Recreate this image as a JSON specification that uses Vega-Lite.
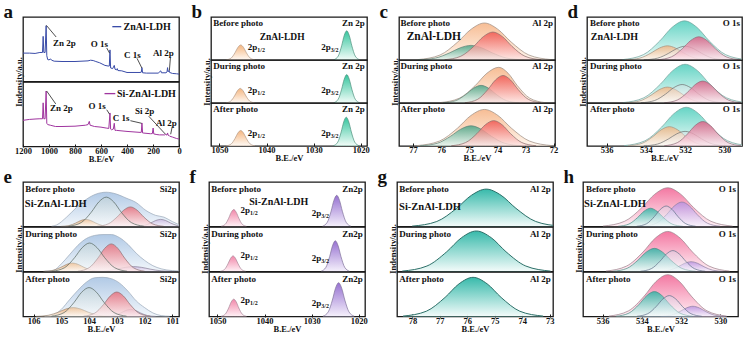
{
"$schema": "https://vega.github.io/schema/vega-lite/v6.json",
"background": "white",
"padding": {"left": 3, "top": 3, "right": 2, "bottom": 0},
"config": {
 "font": "Liberation Serif",
 "view": {"stroke": "#1a1a1a", "strokeWidth": 1.3},
 "axis": {"labelFont": "Liberation Serif", "labelFontWeight": "bold", "labelFontSize": 8.5, "labelColor": "#111", "labelFlush": false, "labelOverlap": false, "labelPadding": 2, "titleFont": "Liberation Serif", "titleFontWeight": "bold", "titleFontSize": 8.5, "titleColor": "#111", "titlePadding": 0, "tickSize": -3, "tickColor": "#1a1a1a", "domain": false, "grid": false, "format": "d"},
 "header": {"labels": false, "labelPadding": 0, "titleFont": "Liberation Serif", "titleFontWeight": "bold", "titleFontSize": 8.5, "titleColor": "#111", "titlePadding": -10},
 "title": {"font": "Liberation Serif", "fontWeight": "bold", "fontSize": 19, "color": "#111", "anchor": "start", "offset": 0, "frame": "bounds"},
 "text": {"font": "Liberation Serif", "fontWeight": "bold", "fontSize": 9, "color": "#111", "baseline": "middle"},
 "rule": {"color": "#222", "strokeWidth": 0.8}
},
"datasets": {
 "a": [
  {"n":1,"c":"lab"},{"n":2,"c":"lab"},
  {"n":1,"x":1200,"y":44},{"n":1,"x":1150,"y":44},{"n":1,"x":1107,"y":43.5},{"n":1,"x":1070,"y":45},{"n":1,"x":1050,"y":45},{"n":1,"x":1045,"y":70},{"n":1,"x":1040,"y":45},{"n":1,"x":1030,"y":45},{"n":1,"x":1022,"y":86.5},{"n":1,"x":1017,"y":40},{"n":1,"x":1010,"y":34},{"n":1,"x":1000,"y":33.5},{"n":1,"x":988,"y":35},{"n":1,"x":980,"y":33},{"n":1,"x":960,"y":31.5},{"n":1,"x":900,"y":31},{"n":1,"x":800,"y":31},{"n":1,"x":700,"y":32},{"n":1,"x":680,"y":33},{"n":1,"x":660,"y":32.5},{"n":1,"x":640,"y":31},{"n":1,"x":610,"y":29},{"n":1,"x":570,"y":25},{"n":1,"x":545,"y":24},{"n":1,"x":536,"y":24},{"n":1,"x":531,"y":49},{"n":1,"x":526,"y":21},{"n":1,"x":510,"y":20},{"n":1,"x":498,"y":25},{"n":1,"x":492,"y":19},{"n":1,"x":480,"y":18},{"n":1,"x":475,"y":20},{"n":1,"x":470,"y":17},{"n":1,"x":440,"y":16.5},{"n":1,"x":400,"y":14},{"n":1,"x":300,"y":14},{"n":1,"x":290,"y":14.5},{"n":1,"x":285,"y":21.5},{"n":1,"x":280,"y":13.5},{"n":1,"x":250,"y":13},{"n":1,"x":200,"y":13},{"n":1,"x":160,"y":13},{"n":1,"x":140,"y":16.5},{"n":1,"x":135,"y":13.5},{"n":1,"x":100,"y":13.5},{"n":1,"x":92,"y":15},{"n":1,"x":88,"y":21.5},{"n":1,"x":84,"y":15},{"n":1,"x":76,"y":17},{"n":1,"x":72,"y":14},{"n":1,"x":50,"y":12.5},{"n":1,"x":20,"y":12},{"n":1,"x":0,"y":11.5},
  {"n":2,"x":1200,"y":40.6},{"n":2,"x":1150,"y":42},{"n":2,"x":1100,"y":42.7},{"n":2,"x":1070,"y":43},{"n":2,"x":1050,"y":43},{"n":2,"x":1045,"y":67.7},{"n":2,"x":1040,"y":43},{"n":2,"x":1030,"y":43},{"n":2,"x":1022,"y":86},{"n":2,"x":1017,"y":36},{"n":2,"x":1010,"y":34},{"n":2,"x":990,"y":33},{"n":2,"x":950,"y":31},{"n":2,"x":900,"y":31},{"n":2,"x":800,"y":31.5},{"n":2,"x":720,"y":33},{"n":2,"x":700,"y":34},{"n":2,"x":690,"y":39},{"n":2,"x":684,"y":33},{"n":2,"x":650,"y":31},{"n":2,"x":600,"y":30},{"n":2,"x":560,"y":28.6},{"n":2,"x":540,"y":28},{"n":2,"x":531,"y":52},{"n":2,"x":526,"y":27},{"n":2,"x":520,"y":26},{"n":2,"x":505,"y":27},{"n":2,"x":498,"y":36},{"n":2,"x":492,"y":25},{"n":2,"x":480,"y":25},{"n":2,"x":400,"y":23.4},{"n":2,"x":300,"y":21.9},{"n":2,"x":290,"y":22},{"n":2,"x":285,"y":36.5},{"n":2,"x":280,"y":21},{"n":2,"x":270,"y":20.8},{"n":2,"x":220,"y":19.8},{"n":2,"x":205,"y":20},{"n":2,"x":199,"y":28.6},{"n":2,"x":194,"y":19.5},{"n":2,"x":170,"y":18.5},{"n":2,"x":150,"y":18},{"n":2,"x":110,"y":18},{"n":2,"x":104,"y":19},{"n":2,"x":100,"y":18},{"n":2,"x":92,"y":18},{"n":2,"x":88,"y":21},{"n":2,"x":84,"y":17.5},{"n":2,"x":76,"y":17},{"n":2,"x":72,"y":16},{"n":2,"x":50,"y":14.6},{"n":2,"x":20,"y":12.5},{"n":2,"x":0,"y":11.5}
 ],
 "b": [
  {"s":1,"c":"lab"},{"s":2,"c":"lab"},{"s":3,"c":"lab"},
  {"s":1,"c":"o","x":1042.5,"y":0.4},{"s":1,"c":"o","x":1043.5,"y":4.7},{"s":1,"c":"o","x":1044.3,"y":17},{"s":1,"c":"o","x":1044.9,"y":29.2},{"s":1,"c":"o","x":1045.5,"y":35},{"s":1,"c":"o","x":1046.1,"y":29.2},{"s":1,"c":"o","x":1046.7,"y":17},{"s":1,"c":"o","x":1047.5,"y":4.7},{"s":1,"c":"o","x":1048.5,"y":0.4},
  {"s":1,"c":"g","x":1020.3,"y":0.7},{"s":1,"c":"g","x":1021.2,"y":9.2},{"s":1,"c":"g","x":1021.92,"y":33.1},{"s":1,"c":"g","x":1022.46,"y":56.8},{"s":1,"c":"g","x":1023,"y":68},{"s":1,"c":"g","x":1023.54,"y":56.8},{"s":1,"c":"g","x":1024.08,"y":33.1},{"s":1,"c":"g","x":1024.8,"y":9.2},{"s":1,"c":"g","x":1025.7,"y":0.7},
  {"s":2,"c":"o","x":1042.6,"y":0.3},{"s":2,"c":"o","x":1043.6,"y":4.6},{"s":2,"c":"o","x":1044.4,"y":16.6},{"s":2,"c":"o","x":1045,"y":28.4},{"s":2,"c":"o","x":1045.6,"y":34},{"s":2,"c":"o","x":1046.2,"y":28.4},{"s":2,"c":"o","x":1046.8,"y":16.6},{"s":2,"c":"o","x":1047.6,"y":4.6},{"s":2,"c":"o","x":1048.6,"y":0.3},
  {"s":2,"c":"g","x":1020.3,"y":0.7},{"s":2,"c":"g","x":1021.2,"y":8.9},{"s":2,"c":"g","x":1021.92,"y":32.1},{"s":2,"c":"g","x":1022.46,"y":55.1},{"s":2,"c":"g","x":1023,"y":66},{"s":2,"c":"g","x":1023.54,"y":55.1},{"s":2,"c":"g","x":1024.08,"y":32.1},{"s":2,"c":"g","x":1024.8,"y":8.9},{"s":2,"c":"g","x":1025.7,"y":0.7},
  {"s":3,"c":"o","x":1042.5,"y":0.4},{"s":3,"c":"o","x":1043.5,"y":4.9},{"s":3,"c":"o","x":1044.3,"y":17.5},{"s":3,"c":"o","x":1044.9,"y":30.1},{"s":3,"c":"o","x":1045.5,"y":36},{"s":3,"c":"o","x":1046.1,"y":30.1},{"s":3,"c":"o","x":1046.7,"y":17.5},{"s":3,"c":"o","x":1047.5,"y":4.9},{"s":3,"c":"o","x":1048.5,"y":0.4},
  {"s":3,"c":"g","x":1020.4,"y":0.7},{"s":3,"c":"g","x":1021.3,"y":9},{"s":3,"c":"g","x":1022.02,"y":32.6},{"s":3,"c":"g","x":1022.56,"y":55.9},{"s":3,"c":"g","x":1023.1,"y":67},{"s":3,"c":"g","x":1023.64,"y":55.9},{"s":3,"c":"g","x":1024.18,"y":32.6},{"s":3,"c":"g","x":1024.9,"y":9},{"s":3,"c":"g","x":1025.8,"y":0.7}
 ],
 "c": [
  {"s":1,"c":"lab"},{"s":2,"c":"lab"},{"s":3,"c":"lab"},
  {"s":1,"c":"o","x":72.09,"y":0.9},{"s":1,"c":"o","x":72.88,"y":11.6},{"s":1,"c":"o","x":73.51,"y":41.9},{"s":1,"c":"o","x":73.99,"y":71.8},{"s":1,"c":"o","x":74.46,"y":86},{"s":1,"c":"o","x":74.93,"y":71.8},{"s":1,"c":"o","x":75.41,"y":41.9},{"s":1,"c":"o","x":76.04,"y":11.6},{"s":1,"c":"o","x":76.83,"y":0.9},
  {"s":1,"c":"r","x":72.45,"y":0.7},{"s":1,"c":"r","x":73.02,"y":8.8},{"s":1,"c":"r","x":73.48,"y":31.7},{"s":1,"c":"r","x":73.82,"y":54.3},{"s":1,"c":"r","x":74.16,"y":65},{"s":1,"c":"r","x":74.5,"y":54.3},{"s":1,"c":"r","x":74.84,"y":31.7},{"s":1,"c":"r","x":75.3,"y":8.8},{"s":1,"c":"r","x":75.87,"y":0.7},
  {"s":1,"c":"g","x":73.05,"y":0.3},{"s":1,"c":"g","x":73.68,"y":4.6},{"s":1,"c":"g","x":74.18,"y":16.6},{"s":1,"c":"g","x":74.56,"y":28.4},{"s":1,"c":"g","x":74.94,"y":34},{"s":1,"c":"g","x":75.32,"y":28.4},{"s":1,"c":"g","x":75.7,"y":16.6},{"s":1,"c":"g","x":76.2,"y":4.6},{"s":1,"c":"g","x":76.83,"y":0.3},
  {"s":2,"c":"o","x":72.3,"y":0.8},{"s":2,"c":"o","x":72.85,"y":11.2},{"s":2,"c":"o","x":73.29,"y":40.4},{"s":2,"c":"o","x":73.62,"y":69.3},{"s":2,"c":"o","x":73.95,"y":83},{"s":2,"c":"o","x":74.37,"y":69.3},{"s":2,"c":"o","x":74.79,"y":40.4},{"s":2,"c":"o","x":75.35,"y":11.2},{"s":2,"c":"o","x":76.05,"y":0.8},
  {"s":2,"c":"r","x":72.45,"y":0.6},{"s":2,"c":"r","x":72.9,"y":8.6},{"s":2,"c":"r","x":73.26,"y":31.2},{"s":2,"c":"r","x":73.53,"y":53.4},{"s":2,"c":"r","x":73.8,"y":64},{"s":2,"c":"r","x":74.07,"y":53.4},{"s":2,"c":"r","x":74.34,"y":31.2},{"s":2,"c":"r","x":74.7,"y":8.6},{"s":2,"c":"r","x":75.15,"y":0.6},
  {"s":2,"c":"g","x":73.23,"y":0.4},{"s":2,"c":"g","x":73.68,"y":5.5},{"s":2,"c":"g","x":74.04,"y":20},{"s":2,"c":"g","x":74.31,"y":34.2},{"s":2,"c":"g","x":74.58,"y":41},{"s":2,"c":"g","x":74.85,"y":34.2},{"s":2,"c":"g","x":75.12,"y":20},{"s":2,"c":"g","x":75.48,"y":5.5},{"s":2,"c":"g","x":75.93,"y":0.4},
  {"s":3,"c":"o","x":72.06,"y":0.9},{"s":3,"c":"o","x":72.86,"y":11.5},{"s":3,"c":"o","x":73.5,"y":41.4},{"s":3,"c":"o","x":73.98,"y":71},{"s":3,"c":"o","x":74.46,"y":85},{"s":3,"c":"o","x":74.94,"y":71},{"s":3,"c":"o","x":75.42,"y":41.4},{"s":3,"c":"o","x":76.06,"y":11.5},{"s":3,"c":"o","x":76.86,"y":0.9},
  {"s":3,"c":"r","x":72.63,"y":0.6},{"s":3,"c":"r","x":73.13,"y":8},{"s":3,"c":"r","x":73.53,"y":28.7},{"s":3,"c":"r","x":73.83,"y":49.3},{"s":3,"c":"r","x":74.13,"y":59},{"s":3,"c":"r","x":74.43,"y":49.3},{"s":3,"c":"r","x":74.73,"y":28.7},{"s":3,"c":"r","x":75.13,"y":8},{"s":3,"c":"r","x":75.63,"y":0.6},
  {"s":3,"c":"g","x":73.14,"y":0.5},{"s":3,"c":"g","x":73.74,"y":6.3},{"s":3,"c":"g","x":74.22,"y":22.9},{"s":3,"c":"g","x":74.58,"y":39.2},{"s":3,"c":"g","x":74.94,"y":47},{"s":3,"c":"g","x":75.3,"y":39.2},{"s":3,"c":"g","x":75.66,"y":22.9},{"s":3,"c":"g","x":76.14,"y":6.3},{"s":3,"c":"g","x":76.74,"y":0.5}
 ],
 "d": [
  {"s":1,"c":"lab"},{"s":2,"c":"lab"},{"s":3,"c":"lab"},
  {"s":1,"c":"t","x":528.88,"y":0.9},{"s":1,"c":"t","x":529.93,"y":12.3},{"s":1,"c":"t","x":530.77,"y":44.3},{"s":1,"c":"t","x":531.4,"y":76},{"s":1,"c":"t","x":532.03,"y":91},{"s":1,"c":"t","x":532.66,"y":76},{"s":1,"c":"t","x":533.29,"y":44.3},{"s":1,"c":"t","x":534.13,"y":12.3},{"s":1,"c":"t","x":535.18,"y":0.9},
  {"s":1,"c":"p","x":529.2,"y":0.5},{"s":1,"c":"p","x":529.9,"y":7.3},{"s":1,"c":"p","x":530.46,"y":26.3},{"s":1,"c":"p","x":530.88,"y":45.1},{"s":1,"c":"p","x":531.3,"y":54},{"s":1,"c":"p","x":531.72,"y":45.1},{"s":1,"c":"p","x":532.14,"y":26.3},{"s":1,"c":"p","x":532.7,"y":7.3},{"s":1,"c":"p","x":533.4,"y":0.5},
  {"s":1,"c":"o","x":530.8,"y":0.3},{"s":1,"c":"o","x":531.5,"y":4.5},{"s":1,"c":"o","x":532.06,"y":16.1},{"s":1,"c":"o","x":532.48,"y":27.6},{"s":1,"c":"o","x":532.9,"y":33},{"s":1,"c":"o","x":533.32,"y":27.6},{"s":1,"c":"o","x":533.74,"y":16.1},{"s":1,"c":"o","x":534.3,"y":4.5},{"s":1,"c":"o","x":535,"y":0.3},
  {"s":1,"c":"k","x":529.9,"y":0.3},{"s":1,"c":"k","x":530.6,"y":4.3},{"s":1,"c":"k","x":531.16,"y":15.6},{"s":1,"c":"k","x":531.58,"y":26.7},{"s":1,"c":"k","x":532,"y":32},{"s":1,"c":"k","x":532.42,"y":26.7},{"s":1,"c":"k","x":532.84,"y":15.6},{"s":1,"c":"k","x":533.4,"y":4.3},{"s":1,"c":"k","x":534.1,"y":0.3},
  {"s":2,"c":"t","x":528.85,"y":0.9},{"s":2,"c":"t","x":529.9,"y":12.2},{"s":2,"c":"t","x":530.74,"y":43.8},{"s":2,"c":"t","x":531.37,"y":75.2},{"s":2,"c":"t","x":532,"y":90},{"s":2,"c":"t","x":532.63,"y":75.2},{"s":2,"c":"t","x":533.26,"y":43.8},{"s":2,"c":"t","x":534.1,"y":12.2},{"s":2,"c":"t","x":535.15,"y":0.9},
  {"s":2,"c":"p","x":529.15,"y":0.5},{"s":2,"c":"p","x":529.8,"y":6.9},{"s":2,"c":"p","x":530.32,"y":24.8},{"s":2,"c":"p","x":530.71,"y":42.6},{"s":2,"c":"p","x":531.1,"y":51},{"s":2,"c":"p","x":531.49,"y":42.6},{"s":2,"c":"p","x":531.88,"y":24.8},{"s":2,"c":"p","x":532.4,"y":6.9},{"s":2,"c":"p","x":533.05,"y":0.5},
  {"s":2,"c":"o","x":530.8,"y":0.4},{"s":2,"c":"o","x":531.5,"y":5},{"s":2,"c":"o","x":532.06,"y":18},{"s":2,"c":"o","x":532.48,"y":30.9},{"s":2,"c":"o","x":532.9,"y":37},{"s":2,"c":"o","x":533.32,"y":30.9},{"s":2,"c":"o","x":533.74,"y":18},{"s":2,"c":"o","x":534.3,"y":5},{"s":2,"c":"o","x":535,"y":0.4},
  {"s":2,"c":"k","x":530.05,"y":0.4},{"s":2,"c":"k","x":530.75,"y":5.8},{"s":2,"c":"k","x":531.31,"y":20.9},{"s":2,"c":"k","x":531.73,"y":35.9},{"s":2,"c":"k","x":532.15,"y":43},{"s":2,"c":"k","x":532.57,"y":35.9},{"s":2,"c":"k","x":532.99,"y":20.9},{"s":2,"c":"k","x":533.55,"y":5.8},{"s":2,"c":"k","x":534.25,"y":0.4},
  {"s":3,"c":"t","x":528.79,"y":0.9},{"s":3,"c":"t","x":529.84,"y":12.2},{"s":3,"c":"t","x":530.68,"y":43.8},{"s":3,"c":"t","x":531.31,"y":75.2},{"s":3,"c":"t","x":531.94,"y":90},{"s":3,"c":"t","x":532.57,"y":75.2},{"s":3,"c":"t","x":533.2,"y":43.8},{"s":3,"c":"t","x":534.04,"y":12.2},{"s":3,"c":"t","x":535.09,"y":0.9},
  {"s":3,"c":"p","x":529.15,"y":0.6},{"s":3,"c":"p","x":529.8,"y":7.7},{"s":3,"c":"p","x":530.32,"y":27.8},{"s":3,"c":"p","x":530.71,"y":47.6},{"s":3,"c":"p","x":531.1,"y":57},{"s":3,"c":"p","x":531.49,"y":47.6},{"s":3,"c":"p","x":531.88,"y":27.8},{"s":3,"c":"p","x":532.4,"y":7.7},{"s":3,"c":"p","x":533.05,"y":0.6},
  {"s":3,"c":"o","x":530.7,"y":0.5},{"s":3,"c":"o","x":531.4,"y":6.1},{"s":3,"c":"o","x":531.96,"y":21.9},{"s":3,"c":"o","x":532.38,"y":37.6},{"s":3,"c":"o","x":532.8,"y":45},{"s":3,"c":"o","x":533.22,"y":37.6},{"s":3,"c":"o","x":533.64,"y":21.9},{"s":3,"c":"o","x":534.2,"y":6.1},{"s":3,"c":"o","x":534.9,"y":0.5},
  {"s":3,"c":"k","x":529.9,"y":0.3},{"s":3,"c":"k","x":530.6,"y":4.6},{"s":3,"c":"k","x":531.16,"y":16.6},{"s":3,"c":"k","x":531.58,"y":28.4},{"s":3,"c":"k","x":532,"y":34},{"s":3,"c":"k","x":532.42,"y":28.4},{"s":3,"c":"k","x":532.84,"y":16.6},{"s":3,"c":"k","x":533.4,"y":4.6},{"s":3,"c":"k","x":534.1,"y":0.3}
 ],
 "e": [
  {"s":1,"c":"lab"},{"s":2,"c":"lab"},{"s":3,"c":"lab"},
  {"s":1,"c":"b","x":105.35,"y":0.5},{"s":1,"c":"b","x":105.17,"y":3.5},{"s":1,"c":"b","x":104.81,"y":21},{"s":1,"c":"b","x":104.45,"y":43},{"s":1,"c":"b","x":104.1,"y":61},{"s":1,"c":"b","x":103.74,"y":73},{"s":1,"c":"b","x":103.38,"y":77},{"s":1,"c":"b","x":103.02,"y":73},{"s":1,"c":"b","x":102.67,"y":64},{"s":1,"c":"b","x":102.31,"y":54},{"s":1,"c":"b","x":101.95,"y":36},{"s":1,"c":"b","x":101.6,"y":25},{"s":1,"c":"b","x":101.3,"y":21},{"s":1,"c":"b","x":101,"y":11},{"s":1,"c":"b","x":100.76,"y":4},
  {"s":1,"c":"k","x":102.03,"y":0.7},{"s":1,"c":"k","x":102.48,"y":8.9},{"s":1,"c":"k","x":102.84,"y":32.1},{"s":1,"c":"k","x":103.11,"y":55.1},{"s":1,"c":"k","x":103.38,"y":66},{"s":1,"c":"k","x":103.65,"y":55.1},{"s":1,"c":"k","x":103.92,"y":32.1},{"s":1,"c":"k","x":104.28,"y":8.9},{"s":1,"c":"k","x":104.73,"y":0.7},
  {"s":1,"c":"r","x":101.31,"y":0.4},{"s":1,"c":"r","x":101.71,"y":5.9},{"s":1,"c":"r","x":102.03,"y":21.4},{"s":1,"c":"r","x":102.27,"y":36.7},{"s":1,"c":"r","x":102.51,"y":44},{"s":1,"c":"r","x":102.75,"y":36.7},{"s":1,"c":"r","x":102.99,"y":21.4},{"s":1,"c":"r","x":103.31,"y":5.9},{"s":1,"c":"r","x":103.71,"y":0.4},
  {"s":1,"c":"o","x":103.22,"y":0.2},{"s":1,"c":"o","x":103.52,"y":2.2},{"s":1,"c":"o","x":103.76,"y":7.8},{"s":1,"c":"o","x":103.94,"y":13.4},{"s":1,"c":"o","x":104.12,"y":16},{"s":1,"c":"o","x":104.3,"y":13.4},{"s":1,"c":"o","x":104.48,"y":7.8},{"s":1,"c":"o","x":104.72,"y":2.2},{"s":1,"c":"o","x":105.02,"y":0.2},
  {"s":1,"c":"v","x":100.52,"y":0.2},{"s":1,"c":"v","x":100.82,"y":2.2},{"s":1,"c":"v","x":101.06,"y":7.8},{"s":1,"c":"v","x":101.24,"y":13.4},{"s":1,"c":"v","x":101.42,"y":16},{"s":1,"c":"v","x":101.6,"y":13.4},{"s":1,"c":"v","x":101.78,"y":7.8},{"s":1,"c":"v","x":102.02,"y":2.2},{"s":1,"c":"v","x":102.32,"y":0.2},
  {"s":2,"c":"b","x":105.6,"y":0.5},{"s":2,"c":"b","x":105.3,"y":2},{"s":2,"c":"b","x":105,"y":17},{"s":2,"c":"b","x":104.7,"y":38},{"s":2,"c":"b","x":104.4,"y":59},{"s":2,"c":"b","x":104.1,"y":74},{"s":2,"c":"b","x":103.8,"y":81},{"s":2,"c":"b","x":103.5,"y":83},{"s":2,"c":"b","x":103.2,"y":83},{"s":2,"c":"b","x":102.9,"y":76},{"s":2,"c":"b","x":102.6,"y":61},{"s":2,"c":"b","x":102.3,"y":41},{"s":2,"c":"b","x":102,"y":25},{"s":2,"c":"b","x":101.7,"y":13},{"s":2,"c":"b","x":101.4,"y":6},{"s":2,"c":"b","x":101,"y":2},{"s":2,"c":"b","x":100.76,"y":1},
  {"s":2,"c":"k","x":102.63,"y":0.6},{"s":2,"c":"k","x":103.08,"y":8.6},{"s":2,"c":"k","x":103.44,"y":31.2},{"s":2,"c":"k","x":103.71,"y":53.4},{"s":2,"c":"k","x":103.98,"y":64},{"s":2,"c":"k","x":104.25,"y":53.4},{"s":2,"c":"k","x":104.52,"y":31.2},{"s":2,"c":"k","x":104.88,"y":8.6},{"s":2,"c":"k","x":105.33,"y":0.6},
  {"s":2,"c":"r","x":102,"y":0.6},{"s":2,"c":"r","x":102.4,"y":8.4},{"s":2,"c":"r","x":102.72,"y":30.2},{"s":2,"c":"r","x":102.96,"y":51.8},{"s":2,"c":"r","x":103.2,"y":62},{"s":2,"c":"r","x":103.44,"y":51.8},{"s":2,"c":"r","x":103.68,"y":30.2},{"s":2,"c":"r","x":104,"y":8.4},{"s":2,"c":"r","x":104.4,"y":0.6},
  {"s":2,"c":"o","x":103.55,"y":0.2},{"s":2,"c":"o","x":103.9,"y":2.6},{"s":2,"c":"o","x":104.18,"y":9.3},{"s":2,"c":"o","x":104.39,"y":15.9},{"s":2,"c":"o","x":104.6,"y":19},{"s":2,"c":"o","x":104.81,"y":15.9},{"s":2,"c":"o","x":105.02,"y":9.3},{"s":2,"c":"o","x":105.3,"y":2.6},{"s":2,"c":"o","x":105.65,"y":0.2},
  {"s":2,"c":"v","x":100.9,"y":0.1},{"s":2,"c":"v","x":101.4,"y":1.5},{"s":2,"c":"v","x":101.8,"y":5.4},{"s":2,"c":"v","x":102.1,"y":9.2},{"s":2,"c":"v","x":102.4,"y":11},{"s":2,"c":"v","x":102.7,"y":9.2},{"s":2,"c":"v","x":103,"y":5.4},{"s":2,"c":"v","x":103.4,"y":1.5},{"s":2,"c":"v","x":103.9,"y":0.1},
  {"s":3,"c":"b","x":105.6,"y":0.5},{"s":3,"c":"b","x":105.35,"y":2},{"s":3,"c":"b","x":105,"y":16},{"s":3,"c":"b","x":104.7,"y":38},{"s":3,"c":"b","x":104.4,"y":59},{"s":3,"c":"b","x":104.1,"y":77},{"s":3,"c":"b","x":103.8,"y":87},{"s":3,"c":"b","x":103.5,"y":88},{"s":3,"c":"b","x":103.2,"y":85},{"s":3,"c":"b","x":102.9,"y":75},{"s":3,"c":"b","x":102.6,"y":57},{"s":3,"c":"b","x":102.3,"y":35},{"s":3,"c":"b","x":102,"y":20},{"s":3,"c":"b","x":101.7,"y":8},{"s":3,"c":"b","x":101.4,"y":2},{"s":3,"c":"b","x":101.1,"y":0.5},
  {"s":3,"c":"k","x":102.65,"y":0.7},{"s":3,"c":"k","x":103.1,"y":8.8},{"s":3,"c":"k","x":103.46,"y":31.7},{"s":3,"c":"k","x":103.73,"y":54.3},{"s":3,"c":"k","x":104,"y":65},{"s":3,"c":"k","x":104.27,"y":54.3},{"s":3,"c":"k","x":104.54,"y":31.7},{"s":3,"c":"k","x":104.9,"y":8.8},{"s":3,"c":"k","x":105.35,"y":0.7},
  {"s":3,"c":"r","x":101.8,"y":0.6},{"s":3,"c":"r","x":102.2,"y":7.4},{"s":3,"c":"r","x":102.52,"y":26.8},{"s":3,"c":"r","x":102.76,"y":45.9},{"s":3,"c":"r","x":103,"y":55},{"s":3,"c":"r","x":103.24,"y":45.9},{"s":3,"c":"r","x":103.48,"y":26.8},{"s":3,"c":"r","x":103.8,"y":7.4},{"s":3,"c":"r","x":104.2,"y":0.6},
  {"s":3,"c":"o","x":103.22,"y":0.2},{"s":3,"c":"o","x":103.67,"y":2.7},{"s":3,"c":"o","x":104.03,"y":9.7},{"s":3,"c":"o","x":104.3,"y":16.7},{"s":3,"c":"o","x":104.57,"y":20},{"s":3,"c":"o","x":104.84,"y":16.7},{"s":3,"c":"o","x":105.11,"y":9.7},{"s":3,"c":"o","x":105.47,"y":2.7},{"s":3,"c":"o","x":105.92,"y":0.2},
  {"s":3,"c":"v","x":101.6,"y":0.2},{"s":3,"c":"v","x":101.9,"y":2.2},{"s":3,"c":"v","x":102.14,"y":7.8},{"s":3,"c":"v","x":102.32,"y":13.4},{"s":3,"c":"v","x":102.5,"y":16},{"s":3,"c":"v","x":102.68,"y":13.4},{"s":3,"c":"v","x":102.86,"y":7.8},{"s":3,"c":"v","x":103.1,"y":2.2},{"s":3,"c":"v","x":103.4,"y":0.2}
 ],
 "f": [
  {"s":1,"c":"lab"},{"s":2,"c":"lab"},{"s":3,"c":"lab"},
  {"s":1,"c":"p","x":1043.85,"y":0.4},{"s":1,"c":"p","x":1044.75,"y":5.1},{"s":1,"c":"p","x":1045.47,"y":18.5},{"s":1,"c":"p","x":1046.01,"y":31.7},{"s":1,"c":"p","x":1046.55,"y":38},{"s":1,"c":"p","x":1047.09,"y":31.7},{"s":1,"c":"p","x":1047.63,"y":18.5},{"s":1,"c":"p","x":1048.35,"y":5.1},{"s":1,"c":"p","x":1049.25,"y":0.4},
  {"s":1,"c":"v","x":1021.7,"y":0.7},{"s":1,"c":"v","x":1022.7,"y":9.5},{"s":1,"c":"v","x":1023.5,"y":34.1},{"s":1,"c":"v","x":1024.1,"y":58.5},{"s":1,"c":"v","x":1024.7,"y":70},{"s":1,"c":"v","x":1025.3,"y":58.5},{"s":1,"c":"v","x":1025.9,"y":34.1},{"s":1,"c":"v","x":1026.7,"y":9.5},{"s":1,"c":"v","x":1027.7,"y":0.7},
  {"s":2,"c":"p","x":1044,"y":0.4},{"s":2,"c":"p","x":1044.9,"y":4.7},{"s":2,"c":"p","x":1045.62,"y":17},{"s":2,"c":"p","x":1046.16,"y":29.2},{"s":2,"c":"p","x":1046.7,"y":35},{"s":2,"c":"p","x":1047.24,"y":29.2},{"s":2,"c":"p","x":1047.78,"y":17},{"s":2,"c":"p","x":1048.5,"y":4.7},{"s":2,"c":"p","x":1049.4,"y":0.4},
  {"s":2,"c":"v","x":1022,"y":0.7},{"s":2,"c":"v","x":1023,"y":9.3},{"s":2,"c":"v","x":1023.8,"y":33.6},{"s":2,"c":"v","x":1024.4,"y":57.6},{"s":2,"c":"v","x":1025,"y":69},{"s":2,"c":"v","x":1025.6,"y":57.6},{"s":2,"c":"v","x":1026.2,"y":33.6},{"s":2,"c":"v","x":1027,"y":9.3},{"s":2,"c":"v","x":1028,"y":0.7},
  {"s":3,"c":"p","x":1043.85,"y":0.4},{"s":3,"c":"p","x":1044.75,"y":5.3},{"s":3,"c":"p","x":1045.47,"y":19},{"s":3,"c":"p","x":1046.01,"y":32.6},{"s":3,"c":"p","x":1046.55,"y":39},{"s":3,"c":"p","x":1047.09,"y":32.6},{"s":3,"c":"p","x":1047.63,"y":19},{"s":3,"c":"p","x":1048.35,"y":5.3},{"s":3,"c":"p","x":1049.25,"y":0.4},
  {"s":3,"c":"v","x":1021,"y":0.8},{"s":3,"c":"v","x":1022.1,"y":10.3},{"s":3,"c":"v","x":1022.98,"y":37},{"s":3,"c":"v","x":1023.64,"y":63.5},{"s":3,"c":"v","x":1024.3,"y":76},{"s":3,"c":"v","x":1024.96,"y":63.5},{"s":3,"c":"v","x":1025.62,"y":37},{"s":3,"c":"v","x":1026.5,"y":10.3},{"s":3,"c":"v","x":1027.6,"y":0.8}
 ],
 "g": [
  {"s":1,"c":"lab"},{"s":2,"c":"lab"},{"s":3,"c":"lab"},
  {"s":1,"c":"t","x":72.61,"y":0.8},{"s":1,"c":"t","x":73.51,"y":11.3},{"s":1,"c":"t","x":74.23,"y":40.9},{"s":1,"c":"t","x":74.77,"y":70.1},{"s":1,"c":"t","x":75.31,"y":84},{"s":1,"c":"t","x":75.85,"y":70.1},{"s":1,"c":"t","x":76.39,"y":40.9},{"s":1,"c":"t","x":77.11,"y":11.3},{"s":1,"c":"t","x":78.01,"y":0.8},
  {"s":2,"c":"t","x":72.97,"y":0.9},{"s":2,"c":"t","x":73.87,"y":12.3},{"s":2,"c":"t","x":74.59,"y":44.3},{"s":2,"c":"t","x":75.13,"y":76},{"s":2,"c":"t","x":75.67,"y":91},{"s":2,"c":"t","x":76.21,"y":76},{"s":2,"c":"t","x":76.75,"y":44.3},{"s":2,"c":"t","x":77.47,"y":12.3},{"s":2,"c":"t","x":78.37,"y":0.9},
  {"s":3,"c":"t","x":73.24,"y":0.9},{"s":3,"c":"t","x":74.09,"y":11.9},{"s":3,"c":"t","x":74.77,"y":42.9},{"s":3,"c":"t","x":75.28,"y":73.5},{"s":3,"c":"t","x":75.79,"y":88},{"s":3,"c":"t","x":76.3,"y":73.5},{"s":3,"c":"t","x":76.81,"y":42.9},{"s":3,"c":"t","x":77.49,"y":11.9},{"s":3,"c":"t","x":78.34,"y":0.9}
 ],
 "h": [
  {"s":1,"c":"lab"},{"s":2,"c":"lab"},{"s":3,"c":"lab"},
  {"s":1,"c":"p","x":529.38,"y":0.9},{"s":1,"c":"p","x":530.48,"y":11.7},{"s":1,"c":"p","x":531.36,"y":42.4},{"s":1,"c":"p","x":532.02,"y":72.6},{"s":1,"c":"p","x":532.68,"y":87},{"s":1,"c":"p","x":533.34,"y":72.6},{"s":1,"c":"p","x":534,"y":42.4},{"s":1,"c":"p","x":534.88,"y":11.7},{"s":1,"c":"p","x":535.98,"y":0.9},
  {"s":1,"c":"t","x":531.91,"y":0.4},{"s":1,"c":"t","x":532.46,"y":5.5},{"s":1,"c":"t","x":532.9,"y":20},{"s":1,"c":"t","x":533.23,"y":34.2},{"s":1,"c":"t","x":533.56,"y":41},{"s":1,"c":"t","x":533.89,"y":34.2},{"s":1,"c":"t","x":534.22,"y":20},{"s":1,"c":"t","x":534.66,"y":5.5},{"s":1,"c":"t","x":535.21,"y":0.4},
  {"s":1,"c":"k","x":531.26,"y":0.5},{"s":1,"c":"k","x":531.76,"y":6.2},{"s":1,"c":"k","x":532.16,"y":22.4},{"s":1,"c":"k","x":532.46,"y":38.4},{"s":1,"c":"k","x":532.76,"y":46},{"s":1,"c":"k","x":533.06,"y":38.4},{"s":1,"c":"k","x":533.36,"y":22.4},{"s":1,"c":"k","x":533.76,"y":6.2},{"s":1,"c":"k","x":534.26,"y":0.5},
  {"s":1,"c":"v","x":530.01,"y":0.6},{"s":1,"c":"v","x":530.66,"y":7.4},{"s":1,"c":"v","x":531.18,"y":26.8},{"s":1,"c":"v","x":531.57,"y":45.9},{"s":1,"c":"v","x":531.96,"y":55},{"s":1,"c":"v","x":532.35,"y":45.9},{"s":1,"c":"v","x":532.74,"y":26.8},{"s":1,"c":"v","x":533.26,"y":7.4},{"s":1,"c":"v","x":533.91,"y":0.6},
  {"s":2,"c":"p","x":529.53,"y":0.9},{"s":2,"c":"p","x":530.58,"y":12.2},{"s":2,"c":"p","x":531.42,"y":43.8},{"s":2,"c":"p","x":532.05,"y":75.2},{"s":2,"c":"p","x":532.68,"y":90},{"s":2,"c":"p","x":533.31,"y":75.2},{"s":2,"c":"p","x":533.94,"y":43.8},{"s":2,"c":"p","x":534.78,"y":12.2},{"s":2,"c":"p","x":535.83,"y":0.9},
  {"s":2,"c":"t","x":531.26,"y":0.5},{"s":2,"c":"t","x":531.96,"y":7},{"s":2,"c":"t","x":532.52,"y":25.3},{"s":2,"c":"t","x":532.94,"y":43.4},{"s":2,"c":"t","x":533.36,"y":52},{"s":2,"c":"t","x":533.78,"y":43.4},{"s":2,"c":"t","x":534.2,"y":25.3},{"s":2,"c":"t","x":534.76,"y":7},{"s":2,"c":"t","x":535.46,"y":0.5},
  {"s":2,"c":"k","x":530.77,"y":0.5},{"s":2,"c":"k","x":531.32,"y":6.3},{"s":2,"c":"k","x":531.76,"y":22.9},{"s":2,"c":"k","x":532.09,"y":39.2},{"s":2,"c":"k","x":532.42,"y":47},{"s":2,"c":"k","x":532.75,"y":39.2},{"s":2,"c":"k","x":533.08,"y":22.9},{"s":2,"c":"k","x":533.52,"y":6.3},{"s":2,"c":"k","x":534.07,"y":0.5},
  {"s":2,"c":"v","x":529.84,"y":0.2},{"s":2,"c":"v","x":530.39,"y":3},{"s":2,"c":"v","x":530.83,"y":10.7},{"s":2,"c":"v","x":531.16,"y":18.4},{"s":2,"c":"v","x":531.49,"y":22},{"s":2,"c":"v","x":531.82,"y":18.4},{"s":2,"c":"v","x":532.15,"y":10.7},{"s":2,"c":"v","x":532.59,"y":3},{"s":2,"c":"v","x":533.14,"y":0.2},
  {"s":3,"c":"p","x":529.68,"y":0.9},{"s":3,"c":"p","x":530.68,"y":12.7},{"s":3,"c":"p","x":531.48,"y":45.8},{"s":3,"c":"p","x":532.08,"y":78.5},{"s":3,"c":"p","x":532.68,"y":94},{"s":3,"c":"p","x":533.28,"y":78.5},{"s":3,"c":"p","x":533.88,"y":45.8},{"s":3,"c":"p","x":534.68,"y":12.7},{"s":3,"c":"p","x":535.68,"y":0.9},
  {"s":3,"c":"t","x":531.41,"y":0.6},{"s":3,"c":"t","x":532.06,"y":7.6},{"s":3,"c":"t","x":532.58,"y":27.3},{"s":3,"c":"t","x":532.97,"y":46.8},{"s":3,"c":"t","x":533.36,"y":56},{"s":3,"c":"t","x":533.75,"y":46.8},{"s":3,"c":"t","x":534.14,"y":27.3},{"s":3,"c":"t","x":534.66,"y":7.6},{"s":3,"c":"t","x":535.31,"y":0.6},
  {"s":3,"c":"k","x":530.95,"y":0.5},{"s":3,"c":"k","x":531.5,"y":6.3},{"s":3,"c":"k","x":531.94,"y":22.9},{"s":3,"c":"k","x":532.27,"y":39.2},{"s":3,"c":"k","x":532.6,"y":47},{"s":3,"c":"k","x":532.93,"y":39.2},{"s":3,"c":"k","x":533.26,"y":22.9},{"s":3,"c":"k","x":533.7,"y":6.3},{"s":3,"c":"k","x":534.25,"y":0.5},
  {"s":3,"c":"v","x":529.75,"y":0.2},{"s":3,"c":"v","x":530.3,"y":3.1},{"s":3,"c":"v","x":530.74,"y":11.2},{"s":3,"c":"v","x":531.07,"y":19.2},{"s":3,"c":"v","x":531.4,"y":23},{"s":3,"c":"v","x":531.73,"y":19.2},{"s":3,"c":"v","x":532.06,"y":11.2},{"s":3,"c":"v","x":532.5,"y":3.1},{"s":3,"c":"v","x":533.05,"y":0.2}
 ]
},
"vconcat": [
{"hconcat": [
 {
  "title": {"text": "a", "dx": -11, "dy": 10},
  "data": {"name": "a"},
  "facet": {"row": {"field": "n", "type": "ordinal", "header": {"title": "Indensity/a.u."}}},
  "spacing": {"row": 0},
  "bounds": "flush",
  "spec": {
   "width": 156, "height": 64.5,
   "layer": [
    {"transform": [{"filter": "datum.n==1 && datum.c!='lab'"}], "mark": {"type": "line", "color": "#3a4ca8", "strokeWidth": 1}, "encoding": {"x": {"field": "x", "type": "quantitative", "scale": {"domain": [0, 1200], "reverse": true, "nice": false, "zero": false}, "axis": {"values": [1200, 1000, 800, 600, 400, 200, 0], "title": "B.E/eV", "format": "d"}}, "y": {"field": "y", "type": "quantitative", "scale": {"domain": [0, 100], "nice": false}, "axis": null}}},
    {"transform": [{"filter": "datum.n==2 && datum.c!='lab'"}], "mark": {"type": "line", "color": "#a0359f", "strokeWidth": 1}, "encoding": {"x": {"field": "x", "type": "quantitative", "scale": {"domain": [0, 1200], "reverse": true, "nice": false, "zero": false}, "axis": {"values": [1200, 1000, 800, 600, 400, 200, 0], "title": "B.E/eV", "format": "d"}}, "y": {"field": "y", "type": "quantitative", "scale": {"domain": [0, 100], "nice": false}, "axis": null}}},
    {"transform": [{"filter": "datum.n==1 && datum.c=='lab'"}], "mark": {"type": "rule", "color": "#3a4ca8", "strokeWidth": 1.3}, "encoding": {"x": {"datum": 513, "axis": {"values": [1200, 1000, 800, 600, 400, 200, 0], "title": "B.E/eV", "format": "d"}}, "x2": {"datum": 444}, "y": {"datum": 85, "axis": null}}},
    {"transform": [{"filter": "datum.n==1 && datum.c=='lab'"}], "mark": {"type": "text", "align": "left", "fontSize": 10, "text": "ZnAl-LDH"}, "encoding": {"x": {"datum": 426, "axis": {"values": [1200, 1000, 800, 600, 400, 200, 0], "title": "B.E/eV", "format": "d"}}, "y": {"datum": 85, "axis": null}}},
    {"transform": [{"filter": "datum.n==2 && datum.c=='lab'"}], "mark": {"type": "rule", "color": "#a0359f", "strokeWidth": 1.3}, "encoding": {"x": {"datum": 573, "axis": {"values": [1200, 1000, 800, 600, 400, 200, 0], "title": "B.E/eV", "format": "d"}}, "x2": {"datum": 490}, "y": {"datum": 82, "axis": null}}},
    {"transform": [{"filter": "datum.n==2 && datum.c=='lab'"}], "mark": {"type": "text", "align": "left", "fontSize": 10, "text": "Si-ZnAl-LDH"}, "encoding": {"x": {"datum": 477, "axis": {"values": [1200, 1000, 800, 600, 400, 200, 0], "title": "B.E/eV", "format": "d"}}, "y": {"datum": 82, "axis": null}}},
    {"transform": [{"filter": "datum.n==1 && datum.c=='lab'"}], "mark": {"type": "text", "align": "left", "text": "Zn 2p"}, "encoding": {"x": {"datum": 969, "axis": {"values": [1200, 1000, 800, 600, 400, 200, 0], "title": "B.E/eV", "format": "d"}}, "y": {"datum": 59, "axis": null}}},
    {"transform": [{"filter": "datum.n==1 && datum.c=='lab'"}], "mark": {"type": "text", "align": "center", "text": "O 1s"}, "encoding": {"x": {"datum": 613, "axis": {"values": [1200, 1000, 800, 600, 400, 200, 0], "title": "B.E/eV", "format": "d"}}, "y": {"datum": 57.5, "axis": null}}},
    {"transform": [{"filter": "datum.n==1 && datum.c=='lab'"}], "mark": {"type": "text", "align": "center", "text": "C 1s"}, "encoding": {"x": {"datum": 358, "axis": {"values": [1200, 1000, 800, 600, 400, 200, 0], "title": "B.E/eV", "format": "d"}}, "y": {"datum": 41.5, "axis": null}}},
    {"transform": [{"filter": "datum.n==1 && datum.c=='lab'"}], "mark": {"type": "text", "align": "center", "text": "Al 2p"}, "encoding": {"x": {"datum": 120, "axis": {"values": [1200, 1000, 800, 600, 400, 200, 0], "title": "B.E/eV", "format": "d"}}, "y": {"datum": 44, "axis": null}}},
    {"transform": [{"filter": "datum.n==2 && datum.c=='lab'"}], "mark": {"type": "text", "align": "left", "text": "Zn 2p"}, "encoding": {"x": {"datum": 992, "axis": {"values": [1200, 1000, 800, 600, 400, 200, 0], "title": "B.E/eV", "format": "d"}}, "y": {"datum": 60, "axis": null}}},
    {"transform": [{"filter": "datum.n==2 && datum.c=='lab'"}], "mark": {"type": "text", "align": "center", "text": "O 1s"}, "encoding": {"x": {"datum": 630, "axis": {"values": [1200, 1000, 800, 600, 400, 200, 0], "title": "B.E/eV", "format": "d"}}, "y": {"datum": 62.5, "axis": null}}},
    {"transform": [{"filter": "datum.n==2 && datum.c=='lab'"}], "mark": {"type": "text", "align": "center", "text": "C 1s"}, "encoding": {"x": {"datum": 445, "axis": {"values": [1200, 1000, 800, 600, 400, 200, 0], "title": "B.E/eV", "format": "d"}}, "y": {"datum": 44, "axis": null}}},
    {"transform": [{"filter": "datum.n==2 && datum.c=='lab'"}], "mark": {"type": "text", "align": "center", "text": "Si 2p"}, "encoding": {"x": {"datum": 265, "axis": {"values": [1200, 1000, 800, 600, 400, 200, 0], "title": "B.E/eV", "format": "d"}}, "y": {"datum": 55, "axis": null}}},
    {"transform": [{"filter": "datum.n==2 && datum.c=='lab'"}], "mark": {"type": "text", "align": "center", "text": "Al 2p"}, "encoding": {"x": {"datum": 98, "axis": {"values": [1200, 1000, 800, 600, 400, 200, 0], "title": "B.E/eV", "format": "d"}}, "y": {"datum": 36.5, "axis": null}}},
    {"transform": [{"filter": "datum.n==1 && datum.c=='lab'"}], "mark": {"type": "rule"}, "encoding": {"x": {"datum": 1020, "axis": {"values": [1200, 1000, 800, 600, 400, 200, 0], "title": "B.E/eV", "format": "d"}}, "x2": {"datum": 945}, "y": {"datum": 87, "axis": null}, "y2": {"datum": 69}}},
    {"transform": [{"filter": "datum.n==1 && datum.c=='lab'"}], "mark": {"type": "rule"}, "encoding": {"x": {"datum": 556, "axis": {"values": [1200, 1000, 800, 600, 400, 200, 0], "title": "B.E/eV", "format": "d"}}, "x2": {"datum": 534}, "y": {"datum": 52, "axis": null}, "y2": {"datum": 44}}},
    {"transform": [{"filter": "datum.n==1 && datum.c=='lab'"}], "mark": {"type": "rule"}, "encoding": {"x": {"datum": 323, "axis": {"values": [1200, 1000, 800, 600, 400, 200, 0], "title": "B.E/eV", "format": "d"}}, "x2": {"datum": 286}, "y": {"datum": 36, "axis": null}, "y2": {"datum": 21}}},
    {"transform": [{"filter": "datum.n==1 && datum.c=='lab'"}], "mark": {"type": "rule"}, "encoding": {"x": {"datum": 66, "axis": {"values": [1200, 1000, 800, 600, 400, 200, 0], "title": "B.E/eV", "format": "d"}}, "x2": {"datum": 74}, "y": {"datum": 37, "axis": null}, "y2": {"datum": 17}}},
    {"transform": [{"filter": "datum.n==2 && datum.c=='lab'"}], "mark": {"type": "rule"}, "encoding": {"x": {"datum": 1018, "axis": {"values": [1200, 1000, 800, 600, 400, 200, 0], "title": "B.E/eV", "format": "d"}}, "x2": {"datum": 948}, "y": {"datum": 86, "axis": null}, "y2": {"datum": 66}}},
    {"transform": [{"filter": "datum.n==2 && datum.c=='lab'"}], "mark": {"type": "rule"}, "encoding": {"x": {"datum": 556, "axis": {"values": [1200, 1000, 800, 600, 400, 200, 0], "title": "B.E/eV", "format": "d"}}, "x2": {"datum": 534}, "y": {"datum": 57, "axis": null}, "y2": {"datum": 50}}},
    {"transform": [{"filter": "datum.n==2 && datum.c=='lab'"}], "mark": {"type": "rule"}, "encoding": {"x": {"datum": 374, "axis": {"values": [1200, 1000, 800, 600, 400, 200, 0], "title": "B.E/eV", "format": "d"}}, "x2": {"datum": 288}, "y": {"datum": 40, "axis": null}, "y2": {"datum": 36}}},
    {"transform": [{"filter": "datum.n==2 && datum.c=='lab'"}], "mark": {"type": "rule"}, "encoding": {"x": {"datum": 233, "axis": {"values": [1200, 1000, 800, 600, 400, 200, 0], "title": "B.E/eV", "format": "d"}}, "x2": {"datum": 104}, "y": {"datum": 47, "axis": null}, "y2": {"datum": 19}}},
    {"transform": [{"filter": "datum.n==2 && datum.c=='lab'"}], "mark": {"type": "rule"}, "encoding": {"x": {"datum": 52, "axis": {"values": [1200, 1000, 800, 600, 400, 200, 0], "title": "B.E/eV", "format": "d"}}, "x2": {"datum": 64}, "y": {"datum": 31, "axis": null}, "y2": {"datum": 19}}}
   ]
  }
 },
 {
  "title": {"text": "b", "dx": -11, "dy": 10},
  "data": {"name": "b"},
  "facet": {"row": {"field": "s", "type": "ordinal", "header": {"title": "Intensity/a.u."}}},
  "spacing": {"row": 0},
  "bounds": "flush",
  "spec": {
   "width": 156, "height": 43,
   "layer": [
    {"transform": [{"filter": "datum.c=='o'"}], "mark": {"type": "area", "interpolate": "monotone", "clip": true, "fill": {"gradient": "linear", "x1": 0, "y1": 0, "x2": 0, "y2": 1, "stops": [{"offset": 0, "color": "#f3ae72"}, {"offset": 1, "color": "#fffaf5"}]}, "fillOpacity": 0.9, "stroke": "#b39a86", "strokeWidth": 0.7}, "encoding": {"x": {"field": "x", "type": "quantitative", "scale": {"domain": [1018.7, 1051.8], "reverse": true, "nice": false, "zero": false}, "axis": {"values": [1050, 1040, 1030, 1020], "title": "B.E./eV", "format": "d"}}, "y": {"field": "y", "type": "quantitative", "scale": {"domain": [0, 100], "nice": false}, "axis": null}}},
    {"transform": [{"filter": "datum.c=='g'"}], "mark": {"type": "area", "interpolate": "monotone", "clip": true, "fill": {"gradient": "linear", "x1": 0, "y1": 0, "x2": 0, "y2": 1, "stops": [{"offset": 0, "color": "#1fbf93"}, {"offset": 1, "color": "#f2fcf8"}]}, "fillOpacity": 0.9, "stroke": "#4e8f7c", "strokeWidth": 0.7}, "encoding": {"x": {"field": "x", "type": "quantitative", "scale": {"domain": [1018.7, 1051.8], "reverse": true, "nice": false, "zero": false}, "axis": {"values": [1050, 1040, 1030, 1020], "title": "B.E./eV", "format": "d"}}, "y": {"field": "y", "type": "quantitative", "scale": {"domain": [0, 100], "nice": false}, "axis": null}}},
    {"transform": [{"filter": "datum.c=='lab'"}], "mark": {"type": "text", "align": "left"}, "encoding": {"x": {"datum": 1051.3, "axis": {"values": [1050, 1040, 1030, 1020], "title": "B.E./eV", "format": "d"}}, "y": {"datum": 85, "axis": null}, "text": {"condition": [{"test": "datum.s==1", "value": "Before photo"}, {"test": "datum.s==2", "value": "During photo"}], "value": "After photo"}}},
    {"transform": [{"filter": "datum.c=='lab'"}], "mark": {"type": "text", "align": "right", "text": "Zn 2p"}, "encoding": {"x": {"datum": 1019.2, "axis": {"values": [1050, 1040, 1030, 1020], "title": "B.E./eV", "format": "d"}}, "y": {"datum": 85, "axis": null}}},
    {"transform": [{"filter": "datum.c=='lab' && datum.s==1"}], "mark": {"type": "text", "align": "center", "fontSize": 9.5, "text": "ZnAl-LDH"}, "encoding": {"x": {"datum": 1036.7, "axis": {"values": [1050, 1040, 1030, 1020], "title": "B.E./eV", "format": "d"}}, "y": {"datum": 54, "axis": null}}},
    {"transform": [{"filter": "datum.c=='lab'"}], "mark": {"type": "text", "align": "left", "text": "2p"}, "encoding": {"x": {"datum": 1044, "axis": {"values": [1050, 1040, 1030, 1020], "title": "B.E./eV", "format": "d"}}, "y": {"datum": 31, "axis": null}}},
    {"transform": [{"filter": "datum.c=='lab'"}], "mark": {"type": "text", "align": "left", "text": "1/2", "fontSize": 6, "dx": 9.5, "dy": 3}, "encoding": {"x": {"datum": 1044, "axis": {"values": [1050, 1040, 1030, 1020], "title": "B.E./eV", "format": "d"}}, "y": {"datum": 31, "axis": null}}},
    {"transform": [{"filter": "datum.c=='lab'"}], "mark": {"type": "text", "align": "left", "text": "2p"}, "encoding": {"x": {"datum": 1028.4, "axis": {"values": [1050, 1040, 1030, 1020], "title": "B.E./eV", "format": "d"}}, "y": {"datum": 31, "axis": null}}},
    {"transform": [{"filter": "datum.c=='lab'"}], "mark": {"type": "text", "align": "left", "text": "3/2", "fontSize": 6, "dx": 9.5, "dy": 3}, "encoding": {"x": {"datum": 1028.4, "axis": {"values": [1050, 1040, 1030, 1020], "title": "B.E./eV", "format": "d"}}, "y": {"datum": 31, "axis": null}}}
   ]
  }
 },
 {
  "title": {"text": "c", "dx": -11, "dy": 10},
  "data": {"name": "c"},
  "facet": {"row": {"field": "s", "type": "ordinal", "header": {"title": "Intensity/a.u."}}},
  "spacing": {"row": 0},
  "bounds": "flush",
  "spec": {
   "width": 156, "height": 43,
   "layer": [
    {"transform": [{"filter": "datum.c=='o'"}], "mark": {"type": "area", "interpolate": "monotone", "clip": true, "fill": {"gradient": "linear", "x1": 0, "y1": 0, "x2": 0, "y2": 1, "stops": [{"offset": 0, "color": "#f6b689"}, {"offset": 1, "color": "#fff5ec"}]}, "fillOpacity": 0.9, "stroke": "#9a8a7e", "strokeWidth": 0.7}, "encoding": {"x": {"field": "x", "type": "quantitative", "scale": {"domain": [71.95, 77.5], "reverse": true, "nice": false, "zero": false}, "axis": {"values": [77, 76, 75, 74, 73, 72], "title": "B.E./eV", "format": "d"}}, "y": {"field": "y", "type": "quantitative", "scale": {"domain": [0, 100], "nice": false}, "axis": null}}},
    {"transform": [{"filter": "datum.c=='g'"}], "mark": {"type": "area", "interpolate": "monotone", "clip": true, "fill": {"gradient": "linear", "x1": 0, "y1": 0, "x2": 0, "y2": 1, "stops": [{"offset": 0, "color": "#3c9f80"}, {"offset": 1, "color": "#e9f5f0"}]}, "fillOpacity": 0.8, "stroke": "#5d7f74", "strokeWidth": 0.7}, "encoding": {"x": {"field": "x", "type": "quantitative", "scale": {"domain": [71.95, 77.5], "reverse": true, "nice": false, "zero": false}, "axis": {"values": [77, 76, 75, 74, 73, 72], "title": "B.E./eV", "format": "d"}}, "y": {"field": "y", "type": "quantitative", "scale": {"domain": [0, 100], "nice": false}, "axis": null}}},
    {"transform": [{"filter": "datum.c=='r'"}], "mark": {"type": "area", "interpolate": "monotone", "clip": true, "fill": {"gradient": "linear", "x1": 0, "y1": 0, "x2": 0, "y2": 1, "stops": [{"offset": 0, "color": "#ef4f4a"}, {"offset": 1, "color": "#fde6e4"}]}, "fillOpacity": 0.8, "stroke": "#8a6a68", "strokeWidth": 0.7}, "encoding": {"x": {"field": "x", "type": "quantitative", "scale": {"domain": [71.95, 77.5], "reverse": true, "nice": false, "zero": false}, "axis": {"values": [77, 76, 75, 74, 73, 72], "title": "B.E./eV", "format": "d"}}, "y": {"field": "y", "type": "quantitative", "scale": {"domain": [0, 100], "nice": false}, "axis": null}}},
    {"transform": [{"filter": "datum.c=='lab'"}], "mark": {"type": "text", "align": "left"}, "encoding": {"x": {"datum": 77.45, "axis": {"values": [77, 76, 75, 74, 73, 72], "title": "B.E./eV", "format": "d"}}, "y": {"datum": 85, "axis": null}, "text": {"condition": [{"test": "datum.s==1", "value": "Before photo"}, {"test": "datum.s==2", "value": "During photo"}], "value": "After photo"}}},
    {"transform": [{"filter": "datum.c=='lab'"}], "mark": {"type": "text", "align": "right", "text": "Al 2p"}, "encoding": {"x": {"datum": 72.02, "axis": {"values": [77, 76, 75, 74, 73, 72], "title": "B.E./eV", "format": "d"}}, "y": {"datum": 85, "axis": null}}},
    {"transform": [{"filter": "datum.c=='lab' && datum.s==1"}], "mark": {"type": "text", "align": "center", "fontSize": 11.5, "text": "ZnAl-LDH"}, "encoding": {"x": {"datum": 76.26, "axis": {"values": [77, 76, 75, 74, 73, 72], "title": "B.E./eV", "format": "d"}}, "y": {"datum": 53, "axis": null}}}
   ]
  }
 },
 {
  "title": {"text": "d", "dx": -11, "dy": 10},
  "data": {"name": "d"},
  "facet": {"row": {"field": "s", "type": "ordinal", "header": {"title": "Indensity/a.u."}}},
  "spacing": {"row": 0},
  "bounds": "flush",
  "spec": {
   "width": 155, "height": 43,
   "layer": [
    {"transform": [{"filter": "datum.c=='t'"}], "mark": {"type": "area", "interpolate": "monotone", "clip": true, "fill": {"gradient": "linear", "x1": 0, "y1": 0, "x2": 0, "y2": 1, "stops": [{"offset": 0, "color": "#56d0bf"}, {"offset": 1, "color": "#effbf9"}]}, "fillOpacity": 0.9, "stroke": "#6f9f98", "strokeWidth": 0.7}, "encoding": {"x": {"field": "x", "type": "quantitative", "scale": {"domain": [529.1, 537], "reverse": true, "nice": false, "zero": false}, "axis": {"values": [536, 534, 532, 530], "title": "B.E./eV", "format": "d"}}, "y": {"field": "y", "type": "quantitative", "scale": {"domain": [0, 100], "nice": false}, "axis": null}}},
    {"transform": [{"filter": "datum.c=='o'"}], "mark": {"type": "area", "interpolate": "monotone", "clip": true, "fill": {"gradient": "linear", "x1": 0, "y1": 0, "x2": 0, "y2": 1, "stops": [{"offset": 0, "color": "#f2b07c"}, {"offset": 1, "color": "#fff6ee"}]}, "fillOpacity": 0.8, "stroke": "#a0917f", "strokeWidth": 0.7}, "encoding": {"x": {"field": "x", "type": "quantitative", "scale": {"domain": [529.1, 537], "reverse": true, "nice": false, "zero": false}, "axis": {"values": [536, 534, 532, 530], "title": "B.E./eV", "format": "d"}}, "y": {"field": "y", "type": "quantitative", "scale": {"domain": [0, 100], "nice": false}, "axis": null}}},
    {"transform": [{"filter": "datum.c=='k'"}], "mark": {"type": "area", "interpolate": "monotone", "clip": true, "fill": {"gradient": "linear", "x1": 0, "y1": 0, "x2": 0, "y2": 1, "stops": [{"offset": 0, "color": "#d9d9de"}, {"offset": 1, "color": "#ffffff"}]}, "fillOpacity": 0.4, "stroke": "#707070", "strokeWidth": 0.7}, "encoding": {"x": {"field": "x", "type": "quantitative", "scale": {"domain": [529.1, 537], "reverse": true, "nice": false, "zero": false}, "axis": {"values": [536, 534, 532, 530], "title": "B.E./eV", "format": "d"}}, "y": {"field": "y", "type": "quantitative", "scale": {"domain": [0, 100], "nice": false}, "axis": null}}},
    {"transform": [{"filter": "datum.c=='p'"}], "mark": {"type": "area", "interpolate": "monotone", "clip": true, "fill": {"gradient": "linear", "x1": 0, "y1": 0, "x2": 0, "y2": 1, "stops": [{"offset": 0, "color": "#e0577f"}, {"offset": 1, "color": "#fbe8ee"}]}, "fillOpacity": 0.8, "stroke": "#8e6c78", "strokeWidth": 0.7}, "encoding": {"x": {"field": "x", "type": "quantitative", "scale": {"domain": [529.1, 537], "reverse": true, "nice": false, "zero": false}, "axis": {"values": [536, 534, 532, 530], "title": "B.E./eV", "format": "d"}}, "y": {"field": "y", "type": "quantitative", "scale": {"domain": [0, 100], "nice": false}, "axis": null}}},
    {"transform": [{"filter": "datum.c=='lab'"}], "mark": {"type": "text", "align": "left"}, "encoding": {"x": {"datum": 536.85, "axis": {"values": [536, 534, 532, 530], "title": "B.E./eV", "format": "d"}}, "y": {"datum": 85, "axis": null}, "text": {"condition": [{"test": "datum.s==1", "value": "Before photo"}, {"test": "datum.s==2", "value": "During photo"}], "value": "After photo"}}},
    {"transform": [{"filter": "datum.c=='lab'"}], "mark": {"type": "text", "align": "right", "text": "O 1s"}, "encoding": {"x": {"datum": 529.2, "axis": {"values": [536, 534, 532, 530], "title": "B.E./eV", "format": "d"}}, "y": {"datum": 85, "axis": null}}},
    {"transform": [{"filter": "datum.c=='lab' && datum.s==1"}], "mark": {"type": "text", "align": "center", "fontSize": 10, "text": "ZnAl-LDH"}, "encoding": {"x": {"datum": 535.6, "axis": {"values": [536, 534, 532, 530], "title": "B.E./eV", "format": "d"}}, "y": {"datum": 54, "axis": null}}}
   ]
  }
 }
], "spacing": 9},
{"hconcat": [
 {
  "title": {"text": "e", "dx": -11, "dy": 10},
  "data": {"name": "e"},
  "facet": {"row": {"field": "s", "type": "ordinal", "header": {"title": "Intensity/a.u."}}},
  "spacing": {"row": 0},
  "bounds": "flush",
  "spec": {
   "width": 156, "height": 44.5,
   "layer": [
    {"transform": [{"filter": "datum.c=='b'"}], "mark": {"type": "area", "interpolate": "monotone", "clip": true, "fill": {"gradient": "linear", "x1": 0, "y1": 0, "x2": 0, "y2": 1, "stops": [{"offset": 0, "color": "#a9c4e3"}, {"offset": 1, "color": "#f1f6fb"}]}, "fillOpacity": 0.9, "stroke": "#9aa8b8", "strokeWidth": 0.7}, "encoding": {"x": {"field": "x", "type": "quantitative", "scale": {"domain": [100.76, 106.38], "reverse": true, "nice": false, "zero": false}, "axis": {"values": [106, 105, 104, 103, 102, 101], "title": "B.E./eV", "format": "d"}}, "y": {"field": "y", "type": "quantitative", "scale": {"domain": [0, 100], "nice": false}, "axis": null}}},
    {"transform": [{"filter": "datum.c=='o'"}], "mark": {"type": "area", "interpolate": "monotone", "clip": true, "fill": {"gradient": "linear", "x1": 0, "y1": 0, "x2": 0, "y2": 1, "stops": [{"offset": 0, "color": "#f0a35e"}, {"offset": 1, "color": "#fff4ea"}]}, "fillOpacity": 0.8, "stroke": "#9a8a7a", "strokeWidth": 0.7}, "encoding": {"x": {"field": "x", "type": "quantitative", "scale": {"domain": [100.76, 106.38], "reverse": true, "nice": false, "zero": false}, "axis": {"values": [106, 105, 104, 103, 102, 101], "title": "B.E./eV", "format": "d"}}, "y": {"field": "y", "type": "quantitative", "scale": {"domain": [0, 100], "nice": false}, "axis": null}}},
    {"transform": [{"filter": "datum.c=='v'"}], "mark": {"type": "area", "interpolate": "monotone", "clip": true, "fill": {"gradient": "linear", "x1": 0, "y1": 0, "x2": 0, "y2": 1, "stops": [{"offset": 0, "color": "#c6b3de"}, {"offset": 1, "color": "#f8f4fc"}]}, "fillOpacity": 0.8, "stroke": "#8a8298", "strokeWidth": 0.7}, "encoding": {"x": {"field": "x", "type": "quantitative", "scale": {"domain": [100.76, 106.38], "reverse": true, "nice": false, "zero": false}, "axis": {"values": [106, 105, 104, 103, 102, 101], "title": "B.E./eV", "format": "d"}}, "y": {"field": "y", "type": "quantitative", "scale": {"domain": [0, 100], "nice": false}, "axis": null}}},
    {"transform": [{"filter": "datum.c=='r'"}], "mark": {"type": "area", "interpolate": "monotone", "clip": true, "fill": {"gradient": "linear", "x1": 0, "y1": 0, "x2": 0, "y2": 1, "stops": [{"offset": 0, "color": "#ea6a76"}, {"offset": 1, "color": "#fde9eb"}]}, "fillOpacity": 0.8, "stroke": "#8d6f72", "strokeWidth": 0.7}, "encoding": {"x": {"field": "x", "type": "quantitative", "scale": {"domain": [100.76, 106.38], "reverse": true, "nice": false, "zero": false}, "axis": {"values": [106, 105, 104, 103, 102, 101], "title": "B.E./eV", "format": "d"}}, "y": {"field": "y", "type": "quantitative", "scale": {"domain": [0, 100], "nice": false}, "axis": null}}},
    {"transform": [{"filter": "datum.c=='k'"}], "mark": {"type": "area", "interpolate": "monotone", "clip": true, "fill": {"gradient": "linear", "x1": 0, "y1": 0, "x2": 0, "y2": 1, "stops": [{"offset": 0, "color": "#c5d3c5"}, {"offset": 1, "color": "#ffffff"}]}, "fillOpacity": 0.35, "stroke": "#56665e", "strokeWidth": 0.7}, "encoding": {"x": {"field": "x", "type": "quantitative", "scale": {"domain": [100.76, 106.38], "reverse": true, "nice": false, "zero": false}, "axis": {"values": [106, 105, 104, 103, 102, 101], "title": "B.E./eV", "format": "d"}}, "y": {"field": "y", "type": "quantitative", "scale": {"domain": [0, 100], "nice": false}, "axis": null}}},
    {"transform": [{"filter": "datum.c=='lab'"}], "mark": {"type": "text", "align": "left"}, "encoding": {"x": {"datum": 106.3, "axis": {"values": [106, 105, 104, 103, 102, 101], "title": "B.E./eV", "format": "d"}}, "y": {"datum": 85, "axis": null}, "text": {"condition": [{"test": "datum.s==1", "value": "Before photo"}, {"test": "datum.s==2", "value": "During photo"}], "value": "After photo"}}},
    {"transform": [{"filter": "datum.c=='lab'"}], "mark": {"type": "text", "align": "right", "text": "Si2p"}, "encoding": {"x": {"datum": 100.84, "axis": {"values": [106, 105, 104, 103, 102, 101], "title": "B.E./eV", "format": "d"}}, "y": {"datum": 85, "axis": null}}},
    {"transform": [{"filter": "datum.c=='lab' && datum.s==1"}], "mark": {"type": "text", "align": "center", "fontSize": 10.5, "text": "Si-ZnAl-LDH"}, "encoding": {"x": {"datum": 105.2, "axis": {"values": [106, 105, 104, 103, 102, 101], "title": "B.E./eV", "format": "d"}}, "y": {"datum": 50, "axis": null}}}
   ]
  }
 },
 {
  "title": {"text": "f", "dx": -11, "dy": 10},
  "data": {"name": "f"},
  "facet": {"row": {"field": "s", "type": "ordinal", "header": {"title": "Indensity/a.u."}}},
  "spacing": {"row": 0},
  "bounds": "flush",
  "spec": {
   "width": 156, "height": 44.5,
   "layer": [
    {"transform": [{"filter": "datum.c=='p'"}], "mark": {"type": "area", "interpolate": "monotone", "clip": true, "fill": {"gradient": "linear", "x1": 0, "y1": 0, "x2": 0, "y2": 1, "stops": [{"offset": 0, "color": "#f07aa0"}, {"offset": 1, "color": "#fff0f5"}]}, "fillOpacity": 0.9, "stroke": "#a7889a", "strokeWidth": 0.7}, "encoding": {"x": {"field": "x", "type": "quantitative", "scale": {"domain": [1018.7, 1051.8], "reverse": true, "nice": false, "zero": false}, "axis": {"values": [1050, 1040, 1030, 1020], "title": "B.E./eV", "format": "d"}}, "y": {"field": "y", "type": "quantitative", "scale": {"domain": [0, 100], "nice": false}, "axis": null}}},
    {"transform": [{"filter": "datum.c=='v'"}], "mark": {"type": "area", "interpolate": "monotone", "clip": true, "fill": {"gradient": "linear", "x1": 0, "y1": 0, "x2": 0, "y2": 1, "stops": [{"offset": 0, "color": "#8b62cc"}, {"offset": 1, "color": "#f4effb"}]}, "fillOpacity": 0.9, "stroke": "#7f7299", "strokeWidth": 0.7}, "encoding": {"x": {"field": "x", "type": "quantitative", "scale": {"domain": [1018.7, 1051.8], "reverse": true, "nice": false, "zero": false}, "axis": {"values": [1050, 1040, 1030, 1020], "title": "B.E./eV", "format": "d"}}, "y": {"field": "y", "type": "quantitative", "scale": {"domain": [0, 100], "nice": false}, "axis": null}}},
    {"transform": [{"filter": "datum.c=='lab'"}], "mark": {"type": "text", "align": "left"}, "encoding": {"x": {"datum": 1051.3, "axis": {"values": [1050, 1040, 1030, 1020], "title": "B.E./eV", "format": "d"}}, "y": {"datum": 85, "axis": null}, "text": {"condition": [{"test": "datum.s==1", "value": "Before photo"}, {"test": "datum.s==2", "value": "During photo"}], "value": "After photo"}}},
    {"transform": [{"filter": "datum.c=='lab'"}], "mark": {"type": "text", "align": "right", "text": "Zn2p"}, "encoding": {"x": {"datum": 1019.2, "axis": {"values": [1050, 1040, 1030, 1020], "title": "B.E./eV", "format": "d"}}, "y": {"datum": 85, "axis": null}}},
    {"transform": [{"filter": "datum.c=='lab' && datum.s==1"}], "mark": {"type": "text", "align": "center", "fontSize": 10, "text": "Si-ZnAl-LDH"}, "encoding": {"x": {"datum": 1037, "axis": {"values": [1050, 1040, 1030, 1020], "title": "B.E./eV", "format": "d"}}, "y": {"datum": 55, "axis": null}}},
    {"transform": [{"filter": "datum.c=='lab'"}], "mark": {"type": "text", "align": "left", "text": "2p"}, "encoding": {"x": {"datum": 1045.1, "axis": {"values": [1050, 1040, 1030, 1020], "title": "B.E./eV", "format": "d"}}, "y": {"datum": 36, "axis": null}}},
    {"transform": [{"filter": "datum.c=='lab'"}], "mark": {"type": "text", "align": "left", "text": "1/2", "fontSize": 6, "dx": 9.5, "dy": 3}, "encoding": {"x": {"datum": 1045.1, "axis": {"values": [1050, 1040, 1030, 1020], "title": "B.E./eV", "format": "d"}}, "y": {"datum": 36, "axis": null}}},
    {"transform": [{"filter": "datum.c=='lab'"}], "mark": {"type": "text", "align": "left", "text": "2p"}, "encoding": {"x": {"datum": 1030, "axis": {"values": [1050, 1040, 1030, 1020], "title": "B.E./eV", "format": "d"}}, "y": {"datum": 31, "axis": null}}},
    {"transform": [{"filter": "datum.c=='lab'"}], "mark": {"type": "text", "align": "left", "text": "3/2", "fontSize": 6, "dx": 9.5, "dy": 3}, "encoding": {"x": {"datum": 1030, "axis": {"values": [1050, 1040, 1030, 1020], "title": "B.E./eV", "format": "d"}}, "y": {"datum": 31, "axis": null}}}
   ]
  }
 },
 {
  "title": {"text": "g", "dx": -11, "dy": 10},
  "data": {"name": "g"},
  "facet": {"row": {"field": "s", "type": "ordinal", "header": {"title": "Indensity/a.u."}}},
  "spacing": {"row": 0},
  "bounds": "flush",
  "spec": {
   "width": 156, "height": 44.5,
   "layer": [
    {"transform": [{"filter": "datum.c=='t'"}], "mark": {"type": "area", "interpolate": "monotone", "clip": true, "fill": {"gradient": "linear", "x1": 0, "y1": 0, "x2": 0, "y2": 1, "stops": [{"offset": 0, "color": "#2db6a6"}, {"offset": 1, "color": "#f3fbfa"}]}, "fillOpacity": 0.95, "stroke": "#2d6f68", "strokeWidth": 1}, "encoding": {"x": {"field": "x", "type": "quantitative", "scale": {"domain": [72.88, 78.56], "reverse": true, "nice": false, "zero": false}, "axis": {"values": [78, 77, 76, 75, 74, 73], "title": "B.E./eV", "format": "d"}}, "y": {"field": "y", "type": "quantitative", "scale": {"domain": [0, 100], "nice": false}, "axis": null}}},
    {"transform": [{"filter": "datum.c=='lab'"}], "mark": {"type": "text", "align": "left"}, "encoding": {"x": {"datum": 78.48, "axis": {"values": [78, 77, 76, 75, 74, 73], "title": "B.E./eV", "format": "d"}}, "y": {"datum": 85, "axis": null}, "text": {"condition": [{"test": "datum.s==1", "value": "Before photo"}, {"test": "datum.s==2", "value": "During photo"}], "value": "After photo"}}},
    {"transform": [{"filter": "datum.c=='lab'"}], "mark": {"type": "text", "align": "right", "text": "Al 2p"}, "encoding": {"x": {"datum": 72.96, "axis": {"values": [78, 77, 76, 75, 74, 73], "title": "B.E./eV", "format": "d"}}, "y": {"datum": 85, "axis": null}}},
    {"transform": [{"filter": "datum.c=='lab' && datum.s==1"}], "mark": {"type": "text", "align": "center", "fontSize": 10.5, "text": "Si-ZnAl-LDH"}, "encoding": {"x": {"datum": 77.36, "axis": {"values": [78, 77, 76, 75, 74, 73], "title": "B.E./eV", "format": "d"}}, "y": {"datum": 44, "axis": null}}}
   ]
  }
 },
 {
  "title": {"text": "h", "dx": -11, "dy": 10},
  "data": {"name": "h"},
  "facet": {"row": {"field": "s", "type": "ordinal", "header": {"title": "Intensity/a.u."}}},
  "spacing": {"row": 0},
  "bounds": "flush",
  "spec": {
   "width": 155, "height": 44.5,
   "layer": [
    {"transform": [{"filter": "datum.c=='p'"}], "mark": {"type": "area", "interpolate": "monotone", "clip": true, "fill": {"gradient": "linear", "x1": 0, "y1": 0, "x2": 0, "y2": 1, "stops": [{"offset": 0, "color": "#f26a98"}, {"offset": 1, "color": "#fff0f5"}]}, "fillOpacity": 0.9, "stroke": "#9a7f8a", "strokeWidth": 0.7}, "encoding": {"x": {"field": "x", "type": "quantitative", "scale": {"domain": [529.1, 537], "reverse": true, "nice": false, "zero": false}, "axis": {"values": [536, 534, 532, 530], "title": "B.E./eV", "format": "d"}}, "y": {"field": "y", "type": "quantitative", "scale": {"domain": [0, 100], "nice": false}, "axis": null}}},
    {"transform": [{"filter": "datum.c=='v'"}], "mark": {"type": "area", "interpolate": "monotone", "clip": true, "fill": {"gradient": "linear", "x1": 0, "y1": 0, "x2": 0, "y2": 1, "stops": [{"offset": 0, "color": "#b58ee0"}, {"offset": 1, "color": "#f7f2fc"}]}, "fillOpacity": 0.8, "stroke": "#8c7fa0", "strokeWidth": 0.7}, "encoding": {"x": {"field": "x", "type": "quantitative", "scale": {"domain": [529.1, 537], "reverse": true, "nice": false, "zero": false}, "axis": {"values": [536, 534, 532, 530], "title": "B.E./eV", "format": "d"}}, "y": {"field": "y", "type": "quantitative", "scale": {"domain": [0, 100], "nice": false}, "axis": null}}},
    {"transform": [{"filter": "datum.c=='t'"}], "mark": {"type": "area", "interpolate": "monotone", "clip": true, "fill": {"gradient": "linear", "x1": 0, "y1": 0, "x2": 0, "y2": 1, "stops": [{"offset": 0, "color": "#22b3a2"}, {"offset": 1, "color": "#effaf8"}]}, "fillOpacity": 0.8, "stroke": "#4e8a84", "strokeWidth": 0.7}, "encoding": {"x": {"field": "x", "type": "quantitative", "scale": {"domain": [529.1, 537], "reverse": true, "nice": false, "zero": false}, "axis": {"values": [536, 534, 532, 530], "title": "B.E./eV", "format": "d"}}, "y": {"field": "y", "type": "quantitative", "scale": {"domain": [0, 100], "nice": false}, "axis": null}}},
    {"transform": [{"filter": "datum.c=='k'"}], "mark": {"type": "area", "interpolate": "monotone", "clip": true, "fill": {"gradient": "linear", "x1": 0, "y1": 0, "x2": 0, "y2": 1, "stops": [{"offset": 0, "color": "#cdd8ec"}, {"offset": 1, "color": "#ffffff"}]}, "fillOpacity": 0.4, "stroke": "#5e6f86", "strokeWidth": 0.7}, "encoding": {"x": {"field": "x", "type": "quantitative", "scale": {"domain": [529.1, 537], "reverse": true, "nice": false, "zero": false}, "axis": {"values": [536, 534, 532, 530], "title": "B.E./eV", "format": "d"}}, "y": {"field": "y", "type": "quantitative", "scale": {"domain": [0, 100], "nice": false}, "axis": null}}},
    {"transform": [{"filter": "datum.c=='lab'"}], "mark": {"type": "text", "align": "left"}, "encoding": {"x": {"datum": 536.85, "axis": {"values": [536, 534, 532, 530], "title": "B.E./eV", "format": "d"}}, "y": {"datum": 85, "axis": null}, "text": {"condition": [{"test": "datum.s==1", "value": "Before photo"}, {"test": "datum.s==2", "value": "During photo"}], "value": "After photo"}}},
    {"transform": [{"filter": "datum.c=='lab'"}], "mark": {"type": "text", "align": "right", "text": "O 1s"}, "encoding": {"x": {"datum": 529.2, "axis": {"values": [536, 534, 532, 530], "title": "B.E./eV", "format": "d"}}, "y": {"datum": 85, "axis": null}}},
    {"transform": [{"filter": "datum.c=='lab' && datum.s==1"}], "mark": {"type": "text", "align": "center", "fontSize": 10.5, "text": "Si-ZnAl-LDH"}, "encoding": {"x": {"datum": 535.37, "axis": {"values": [536, 534, 532, 530], "title": "B.E./eV", "format": "d"}}, "y": {"datum": 50, "axis": null}}}
   ]
  }
 }
], "spacing": 9}
],
"spacing": 5
}
